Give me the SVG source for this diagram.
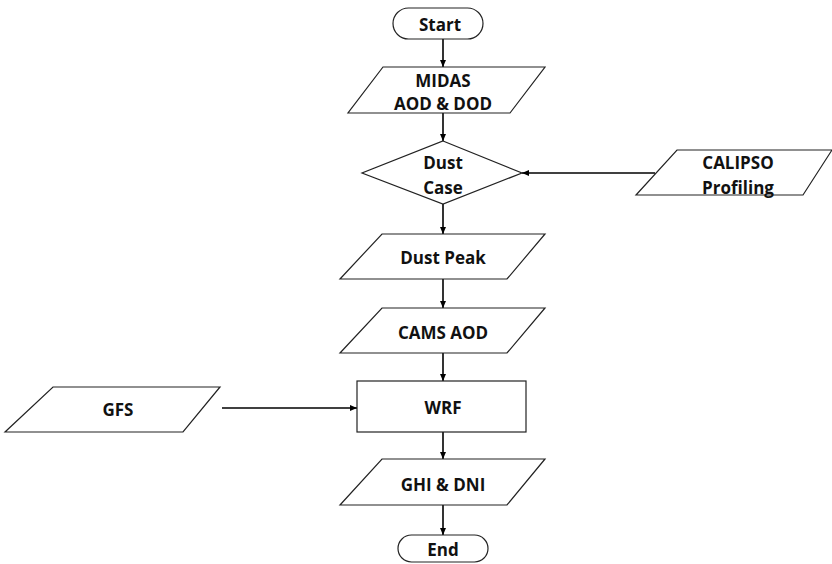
<svg xmlns="http://www.w3.org/2000/svg" width="832" height="564" viewBox="0 0 832 564">
<style>
.s{fill:#fff;stroke:#222;stroke-width:1.2}
.t{font-family:"Open Sans","Liberation Sans",sans-serif;font-weight:bold;font-size:17px;fill:#111;text-anchor:middle;dominant-baseline:central}
.c{stroke:#000;stroke-width:1.6;fill:none;marker-end:url(#a)}
</style>
<defs>
<marker id="a" markerWidth="8" markerHeight="8" refX="7" refY="4" orient="auto" markerUnits="userSpaceOnUse">
<path d="M0,1 L7,4 L0,7 Z" fill="#000"/>
</marker>
</defs>
<rect width="832" height="564" fill="#fff"/>
<g id="connectors">
<line class="c" x1="443" y1="39" x2="443" y2="67"/>
<line class="c" x1="443" y1="113" x2="443" y2="141"/>
<line class="c" x1="443" y1="204" x2="443" y2="234"/>
<line class="c" x1="443" y1="279" x2="443" y2="308"/>
<line class="c" x1="443" y1="353" x2="443" y2="381"/>
<line class="c" x1="443" y1="432" x2="443" y2="459"/>
<line class="c" x1="443" y1="505" x2="443" y2="535"/>
<line class="c" x1="655" y1="173" x2="522" y2="173"/>
<line class="c" x1="222" y1="408" x2="357" y2="408"/>
</g>
<g id="start">
<rect class="s" x="393" y="8" width="90" height="31" rx="15.5"/>
<text class="t" x="440" y="24">Start</text>
</g>
<g id="midas">
<polygon class="s" points="383,67 545,67 510,113 348,113"/>
<text class="t" x="443" y="80">MIDAS</text>
<text class="t" x="443" y="103">AOD &amp; DOD</text>
</g>
<g id="dustcase">
<polygon class="s" points="443,141 522,173 443,204 362,173"/>
<text class="t" x="443" y="162">Dust</text>
<text class="t" x="443" y="187">Case</text>
</g>
<g id="calipso">
<polygon class="s" points="677,150 832,150 803,195 636,195"/>
<text class="t" x="738" y="162">CALIPSO</text>
<text class="t" x="738" y="187">Profiling</text>
</g>
<g id="dustpeak">
<polygon class="s" points="382,234 545,234 507,279 340,279"/>
<text class="t" x="443" y="257">Dust Peak</text>
</g>
<g id="cams">
<polygon class="s" points="382,308 545,308 507,353 340,353"/>
<text class="t" x="443" y="332">CAMS AOD</text>
</g>
<g id="gfs">
<polygon class="s" points="53,387 220,387 183,432 5,432"/>
<text class="t" x="118" y="409">GFS</text>
</g>
<g id="wrf">
<rect class="s" x="357" y="381" width="169" height="51"/>
<text class="t" x="443" y="407">WRF</text>
</g>
<g id="ghi">
<polygon class="s" points="382,459 545,459 507,505 340,505"/>
<text class="t" x="443" y="484">GHI &amp; DNI</text>
</g>
<g id="end">
<rect class="s" x="398" y="535" width="90" height="27" rx="13.5"/>
<text class="t" x="443" y="549">End</text>
</g>
</svg>
